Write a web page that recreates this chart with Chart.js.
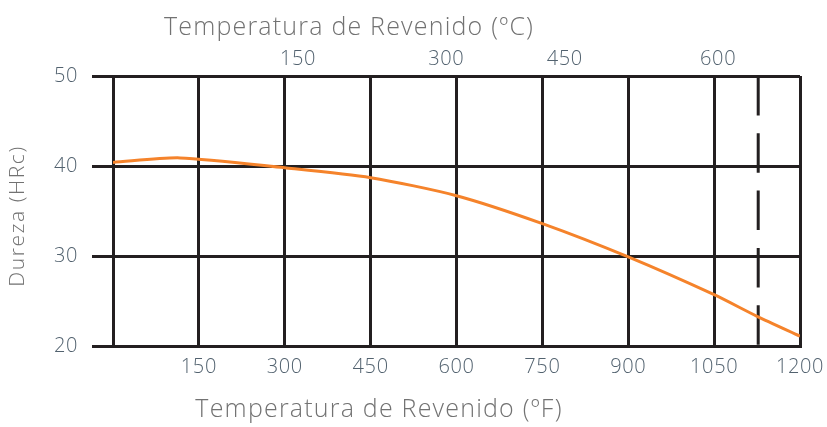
<!DOCTYPE html>
<html>
<head>
<meta charset="utf-8">
<script src="https://cdn.jsdelivr.net/npm/chart.js@4/dist/chart.umd.min.js"></script>
<style>
  html, body { margin: 0; padding: 0; background: #ffffff; }
  #wrap { width: 827px; height: 427px; position: relative; }
</style>
</head>
<body>
<div id="wrap"><canvas id="c" width="827" height="427"></canvas></div>
<script>
// ---- Data ----
const tempF = [0, 117, 300, 450, 600, 750, 900, 1050, 1125, 1200];
const hardness = [40.4, 40.9, 39.8, 38.7, 36.7, 33.6, 29.9, 25.7, 23.3, 21.1];
const fahrenheitTicks = [150, 300, 450, 600, 750, 900, 1050, 1200];
const hardnessTicks = [20, 30, 40, 50];
const celsiusLabels = ['150', '300', '450', '600'];
const celsiusTickAtF = [323, 582, 789, 1057];
const limitF = 1127;
const titleTop = 'Temperatura de Revenido (ºC)';
const titleBottom = 'Temperatura de Revenido (ºF)';
const titleY = 'Dureza (HRc)';

const GRID = '#231f20';
const TICK = '#52626f';
const TITLE = '#727272';
const FONT = "'Open Sans', sans-serif";

const titlesPlugin = {
  id: 'titles',
  beforeDraw(chart) {
    chart.ctx.letterSpacing = '0.6px';
  },
  afterDraw(chart) {
    const ctx = chart.ctx;
    const a = chart.chartArea;
    ctx.save();
    ctx.fillStyle = TITLE;
    ctx.font = "300 25px " + FONT;
    ctx.letterSpacing = '1.2px';
    ctx.textAlign = 'center';
    ctx.textBaseline = 'middle';
    ctx.fillText(titleTop, a.left + 236, a.top - 48);
    ctx.fillText(titleBottom, a.left + 266, a.bottom + 64);
    ctx.translate(18, a.top + 140);
    ctx.rotate(-Math.PI / 2);
    ctx.font = "300 21px " + FONT;
    ctx.letterSpacing = '1.6px';
    ctx.fillText(titleY, 0, 0);
    ctx.restore();
  }
};

const noPad = s => { s.paddingLeft = 0; s.paddingRight = 0; };

new Chart(document.getElementById('c'), {
  type: 'line',
  data: {
    datasets: [
      {
        data: tempF.map((t, i) => ({ x: t, y: hardness[i] })),
        borderColor: '#f5832b',
        borderWidth: 3,
        pointRadius: 0,
        tension: 0.25,
        fill: false,
        order: 0,
        xAxisID: 'x',
        yAxisID: 'y'
      },
      {
        data: [{ x: limitF, y: hardnessTicks[hardnessTicks.length - 1] }, { x: limitF, y: hardnessTicks[0] }],
        borderColor: GRID,
        borderWidth: 3,
        borderDash: [39.5, 17.8],
        pointRadius: 0,
        tension: 0,
        fill: false,
        order: 1,
        xAxisID: 'x',
        yAxisID: 'y'
      }
    ]
  },
  options: {
    responsive: false,
    animation: false,
    events: [],
    layout: { padding: { left: 0, right: 27, top: 0, bottom: 0 } },
    plugins: { legend: { display: false }, tooltip: { enabled: false }, title: { display: false } },
    scales: {
      x: {
        type: 'linear',
        position: 'bottom',
        min: 0,
        max: 1200,
        afterBuildTicks: s => { s.ticks = [0].concat(fahrenheitTicks).map(v => ({ value: v })); },
        afterFit: s => { s.height = 81; noPad(s); },
        grid: { color: GRID, lineWidth: 3, drawTicks: false },
        border: { color: GRID, width: 3 },
        ticks: {
          padding: 9,
          color: TICK,
          font: { family: FONT, size: 20, weight: 300 },
          maxRotation: 0,
          autoSkip: false,
          callback: v => (v === 0 ? '' : String(v))
        }
      },
      xTop: {
        type: 'linear',
        position: 'top',
        min: 0,
        max: 1200,
        afterBuildTicks: s => { s.ticks = celsiusTickAtF.map(v => ({ value: v })); },
        afterFit: s => { s.height = 76; noPad(s); },
        grid: { display: false, drawTicks: false },
        border: { display: false },
        ticks: {
          padding: 5,
          color: TICK,
          font: { family: FONT, size: 20, weight: 300 },
          maxRotation: 0,
          autoSkip: false,
          callback: (v, i) => celsiusLabels[i]
        }
      },
      y: {
        type: 'linear',
        min: 20,
        max: 50,
        afterBuildTicks: s => { s.ticks = hardnessTicks.map(v => ({ value: v })); },
        afterFit: s => { s.width = 113; },
        grid: { color: GRID, lineWidth: 3, drawTicks: true, tickLength: 21 },
        border: { color: GRID, width: 3 },
        ticks: {
          padding: 14,
          color: TICK,
          font: { family: FONT, size: 20, weight: 300 },
          callback: v => String(v)
        }
      }
    }
  },
  plugins: [titlesPlugin]
});
</script>
</body>
</html>
